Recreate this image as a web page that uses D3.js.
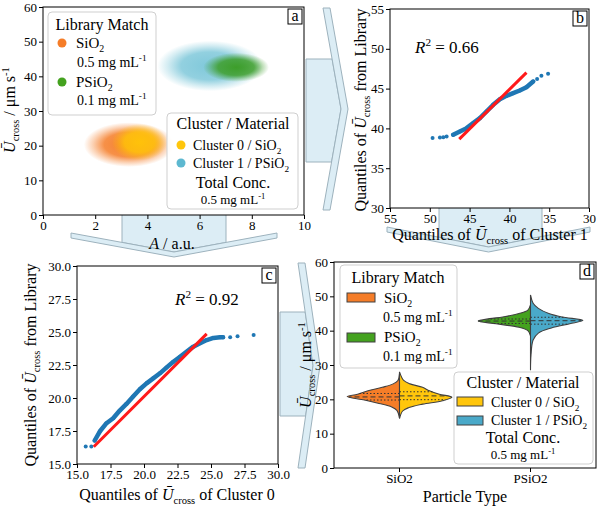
<!DOCTYPE html>
<html lang="en">
<head>
<meta charset="utf-8">
<title>Cluster vs library match</title>
<script src="https://d3js.org/d3.v7.min.js"></script>
<style>
  body { margin: 0; background: #fff; }
</style>
</head>
<body>
<div id="chart"></div>
<script>
// ---- data ----
// (a) scatter clouds: centre and spread of each group
var groupNames = ["SiO2 library", "Cluster 0", "Cluster 1", "PSiO2 library"]
var groupMeanA = [3.3, 3.7, 6.4, 7.4]
var groupMeanU = [20.3, 21.0, 43.0, 42.6]
var groupSdA = [0.62, 0.38, 0.72, 0.45]
var groupSdU = [2.3, 1.9, 2.6, 1.5]

// (b) Q-Q: cluster 1 vs PSiO2 library
var qqB_cluster = [49.65, 48.73, 48.3, 47.89, 47.06, 46.22, 45.38, 44.55, 43.71, 42.88, 42.04, 41.2, 40.37, 39.53, 38.7, 37.86, 37.02, 36.52, 35.98, 35.14]
var qqB_library = [38.78, 38.86, 38.9, 38.99, 39.2, 39.62, 40.03, 40.66, 41.29, 42.12, 42.96, 43.67, 44.09, 44.42, 44.76, 45.18, 45.89, 46.22, 46.6, 46.85]
var fitB_x = [46.3, 37.86]
var fitB_y = [38.65, 47.0]

// (c) Q-Q: cluster 0 vs SiO2 library
var qqC_cluster = [15.65, 16.07, 16.32, 16.7, 17.2, 17.7, 18.19, 18.69, 19.19, 19.69, 20.19, 20.69, 21.19, 21.69, 22.19, 22.69, 23.19, 23.68, 24.18, 24.68, 25.18, 25.68, 25.9, 26.43, 26.98, 28.18]
var qqC_library = [16.33, 16.33, 16.78, 17.46, 18.09, 18.47, 19.05, 19.55, 20.11, 20.66, 21.11, 21.49, 21.87, 22.32, 22.75, 23.13, 23.51, 23.89, 24.14, 24.39, 24.55, 24.6, 24.6, 24.6, 24.67, 24.77]
var fitC_x = [16.25, 24.68]
var fitC_y = [16.31, 24.86]

// (d) split violins: velocity grid + relative width, and quartiles
var particleTypes = ["SiO2", "PSiO2"]
var libSiO2U = [14.5, 16.8, 17.8, 18.8, 19.8, 20.8, 21.5, 22.5, 23.5, 24.5, 25.5, 27.5]
var libSiO2W = [0, 0.05, 0.15, 0.39, 0.67, 1.0, 0.8, 0.6, 0.33, 0.12, 0.03, 0]
var libSiO2Q = [19.8, 20.7, 21.7]
var cl0U = [14.4, 16.6, 17.6, 18.6, 19.6, 20.6, 21.5, 22.5, 23.5, 24.5, 25.5, 28]
var cl0W = [0, 0.06, 0.18, 0.44, 0.82, 1.0, 0.76, 0.57, 0.44, 0.2, 0.08, 0]
var cl0Q = [19.9, 21.0, 22.2]
var libPSiO2U = [38.5, 40, 41, 42, 42.8, 43.5, 44, 45, 46, 47.5]
var libPSiO2W = [0, 0.05, 0.22, 0.66, 1.0, 0.78, 0.53, 0.22, 0.05, 0]
var libPSiO2Q = [42.1, 42.8, 43.4]
var cl1U = [28.5, 33, 37.3, 39.3, 40.8, 42, 43, 44, 45, 46.5, 48, 50.4]
var cl1W = [0, 0.01, 0.05, 0.15, 0.4, 0.75, 1.0, 0.6, 0.35, 0.15, 0.05, 0]
var cl1Q = [41.9, 42.9, 43.9]

var ticksA_x = [0, 2, 4, 6, 8, 10]
var ticksU = [0, 10, 20, 30, 40, 50, 60]
var ticksB = [30, 35, 40, 45, 50, 55]
var ticksC = [15, 17.5, 20, 22.5, 25, 27.5, 30]

// ---- colours ----
var cOrange = "#f57d28", cYellow = "#ffc60c", cCyan = "#5db8d0", cGreen = "#44a21f"
var groupColors = [cOrange, "#ffc20a", "#7fc8da", "#3d9e2a"]
var qqBlue = "#1f77b4"
var FONT = "'Liberation Serif', 'DejaVu Serif', serif"

var width = 600, height = 508
var svg = d3.select("#chart").append("svg")
    .attr("width", width).attr("height", height)
    .style("font-family", FONT)
svg.append("rect").attr("width", width).attr("height", height).attr("fill", "#fff")
var defs = svg.append("defs")

// text with italic / sub / sup pieces
function rich(sel, parts, size) {
    var shift = 0
    parts.forEach(function(p) {
        var target = p.sub ? size * 0.28 : (p.sup ? -size * 0.4 : 0)
        var ts = sel.append("tspan").attr("dy", target - shift).text(p.t)
        shift = target
        if (p.sub || p.sup) ts.attr("font-size", size * 0.66)
        if (p.i) ts.attr("font-style", "italic")
    })
    return sel
}
function label(x, y, parts, size, anchor, rotate) {
    var t = svg.append("text").attr("font-size", size)
        .attr("text-anchor", anchor || "start")
    if (rotate) t.attr("transform", "translate(" + x + "," + y + ") rotate(-90)")
    else t.attr("x", x).attr("y", y)
    return rich(t, parts, size)
}
var Ucross = [{t: "Ū", i: true}, {t: "cross", sub: true}]
var units = [{t: " / μm s"}, {t: "-1", sup: true}]
function conc(v) { return [{t: v + " mg mL"}, {t: "-1", sup: true}] }
function chem(s) { return [{t: s}, {t: "2", sub: true}] }

// ---- background arrows ----
function arrow(orient, p) {
    var mid = (p.c0 + p.c1) / 2, half = (p.c1 - p.c0) / 2
    var inner = function(b) { return p.chev + (p.tip - p.chev) * (1 - Math.abs(b - mid) / half) }
    var body = [[p.body, p.b0], [inner(p.b0), p.b0], [p.tip, mid], [inner(p.b1), p.b1], [p.body, p.b1]]
    var band = [[p.chev, p.c0], [p.chev + p.t, p.c0], [p.tip + p.t, mid], [p.chev + p.t, p.c1], [p.chev, p.c1], [p.tip, mid]]
    var map = orient === "right" ? function(q) { return q } : function(q) { return [q[1], q[0]] }
    ;[body, band].forEach(function(pts) {
        svg.append("polygon")
            .attr("points", pts.map(map).map(function(q) { return q.join(",") }).join(" "))
            .attr("fill", "#dcedf5").attr("stroke", "#9db2bd").attr("stroke-width", 1)
    })
}
arrow("right", {body: 306, b0: 59, b1: 162, chev: 323, c0: 8, c1: 210, tip: 341, t: 7})
arrow("down", {body: 214, b0: 122, b1: 226, chev: 233, c0: 71, c1: 277, tip: 252, t: 5})
arrow("down", {body: 207, b0: 439, b1: 542, chev: 227, c0: 387, c1: 590, tip: 247, t: 5})
arrow("right", {body: 280, b0: 312, b1: 416, chev: 298, c0: 263, c1: 468, tip: 313, t: 7})

// ---- panel helpers ----
function panel(box) {
    var g = svg.append("g")
    g.append("rect").attr("x", box.l).attr("y", box.t)
        .attr("width", box.r - box.l).attr("height", box.b - box.t).attr("fill", "#fff")
    return g
}
function axes(box, xAxis, yAxis) {
    var gx = svg.append("g").attr("transform", "translate(0," + box.b + ")").call(xAxis)
    var gy = svg.append("g").attr("transform", "translate(" + box.l + ",0)").call(yAxis)
    ;[gx, gy].forEach(function(g) {
        g.attr("font-family", FONT).attr("font-size", 13)
        g.select(".domain").remove()
        g.selectAll("line").attr("stroke", "#000")
        g.selectAll("text").attr("fill", "#000").style("font-family", FONT)
    })
    svg.append("rect").attr("x", box.l).attr("y", box.t)
        .attr("width", box.r - box.l).attr("height", box.b - box.t)
        .attr("fill", "none").attr("stroke", "#000").attr("stroke-width", 1)
}
function tag(box, letter) {
    svg.append("rect").attr("x", box.r - 16).attr("y", box.t + 2)
        .attr("width", 14).attr("height", 15)
        .attr("fill", "#fff").attr("stroke", "#000").attr("stroke-width", 1)
    svg.append("text").attr("x", box.r - 9).attr("y", box.t + 14)
        .attr("text-anchor", "middle").attr("font-size", 16).text(letter)
}
function legendBox(x, y, w, h) {
    svg.append("rect").attr("x", x).attr("y", y).attr("width", w).attr("height", h)
        .attr("rx", 4).attr("fill", "#fff").attr("fill-opacity", 0.85)
        .attr("stroke", "#cfcfcf").attr("stroke-width", 1)
}

// ================= (a) =================
var boxA = {l: 43, r: 304, t: 7, b: 215}
var xA = d3.scaleLinear().domain([0, 10]).range([boxA.l, boxA.r])
var yA = d3.scaleLinear().domain([0, 60]).range([boxA.b, boxA.t])
var gA = panel(boxA)
groupNames.forEach(function(name, i) {
    var grad = defs.append("radialGradient").attr("id", "cloud" + i)
    grad.append("stop").attr("offset", "0").attr("stop-color", groupColors[i]).attr("stop-opacity", 1)
    grad.append("stop").attr("offset", "0.55").attr("stop-color", groupColors[i]).attr("stop-opacity", 0.85)
    grad.append("stop").attr("offset", "0.8").attr("stop-color", groupColors[i]).attr("stop-opacity", 0.35)
    grad.append("stop").attr("offset", "1").attr("stop-color", groupColors[i]).attr("stop-opacity", 0)
})
gA.selectAll("ellipse").data(groupNames).enter().append("ellipse")
    .attr("cx", function(d, i) { return xA(groupMeanA[i]) })
    .attr("cy", function(d, i) { return yA(groupMeanU[i]) })
    .attr("rx", function(d, i) { return xA(2.8 * groupSdA[i]) - xA(0) })
    .attr("ry", function(d, i) { return yA(0) - yA(2.8 * groupSdU[i]) })
    .attr("fill", function(d, i) { return "url(#cloud" + i + ")" })
axes(boxA,
    d3.axisBottom(xA).tickValues(ticksA_x).tickSize(4).tickPadding(2),
    d3.axisLeft(yA).tickValues(ticksU).tickSize(4).tickPadding(2))
tag(boxA, "a")
label(15, 110, Ucross.concat(units), 16, "middle", true)
label(172, 249, [{t: "A", i: true}, {t: " / a.u."}], 16, "middle")

// legend: library match
legendBox(48, 12, 108, 103)
label(102, 30, [{t: "Library Match"}], 16, "middle")
svg.append("circle").attr("cx", 62).attr("cy", 43).attr("r", 4.5).attr("fill", cOrange)
label(76, 48, chem("SiO"), 15)
label(77, 67, conc("0.5"), 14)
svg.append("circle").attr("cx", 62).attr("cy", 82).attr("r", 4.5).attr("fill", cGreen)
label(76, 87, chem("PSiO"), 15)
label(77, 105, conc("0.1"), 14)

// legend: cluster / material
legendBox(167, 113, 131, 96)
label(233, 129, [{t: "Cluster / Material"}], 16, "middle")
svg.append("circle").attr("cx", 181).attr("cy", 145).attr("r", 4.5).attr("fill", cYellow)
label(193, 150, [{t: "Cluster 0 / "}].concat(chem("SiO")), 14)
svg.append("circle").attr("cx", 181).attr("cy", 163).attr("r", 4.5).attr("fill", cCyan)
label(193, 168, [{t: "Cluster 1 / "}].concat(chem("PSiO")), 14)
label(233, 188, [{t: "Total Conc."}], 16, "middle")
label(233, 204, conc("0.5"), 13, "middle")

// ================= (b) & (c) Q-Q plots =================
function qqPanel(box, dom, ticks, fmt, xs, ys, dense, fx, fy) {
    var x = d3.scaleLinear().domain(dom.x).range([box.l, box.r])
    var y = d3.scaleLinear().domain(dom.y).range([box.b, box.t])
    var g = panel(box)
    var pts = xs.map(function(v, i) { return [v, ys[i]] })
    g.append("path").datum(pts.slice(dense[0], dense[1] + 1))
        .attr("d", d3.line().x(function(d) { return x(d[0]) }).y(function(d) { return y(d[1]) }))
        .attr("fill", "none").attr("stroke", qqBlue).attr("stroke-width", 4.5)
        .attr("stroke-linecap", "round").attr("stroke-linejoin", "round")
    g.selectAll("circle").data(pts).enter().append("circle")
        .attr("cx", function(d) { return x(d[0]) }).attr("cy", function(d) { return y(d[1]) })
        .attr("r", 2).attr("fill", qqBlue)
    g.append("line").attr("x1", x(fx[0])).attr("y1", y(fy[0])).attr("x2", x(fx[1])).attr("y2", y(fy[1]))
        .attr("stroke", "#ff1a1a").attr("stroke-width", 3)
    axes(box,
        d3.axisBottom(x).tickValues(ticks).tickFormat(fmt).tickSize(4).tickPadding(2),
        d3.axisLeft(y).tickValues(ticks).tickFormat(fmt).tickSize(4).tickPadding(2))
}
var boxB = {l: 390, r: 589, t: 9, b: 208}
qqPanel(boxB, {x: [55, 30], y: [30, 55]}, ticksB, d3.format("d"), qqB_cluster, qqB_library, [4, 16], fitB_x, fitB_y)
tag(boxB, "b")
label(415, 53, [{t: "R", i: true}, {t: "2", sup: true}, {t: " = 0.66"}], 17)
label(366, 110, [{t: "Quantiles of "}].concat(Ucross, [{t: " from Library"}]), 16, "middle", true)
label(490, 240, [{t: "Quantiles of "}].concat(Ucross, [{t: " of Cluster 1"}]), 16, "middle")

var boxC = {l: 77, r: 278, t: 266, b: 464}
qqPanel(boxC, {x: [15, 30], y: [15, 30]}, ticksC, d3.format(".1f"), qqC_cluster, qqC_library, [2, 22], fitC_x, fitC_y)
tag(boxC, "c")
label(175, 305, [{t: "R", i: true}, {t: "2", sup: true}, {t: " = 0.92"}], 17)
label(36, 365, [{t: "Quantiles of "}].concat(Ucross, [{t: " from Library"}]), 16, "middle", true)
label(177, 500, [{t: "Quantiles of "}].concat(Ucross, [{t: " of Cluster 0"}]), 16, "middle")

// ================= (d) split violins =================
var boxD = {l: 334, r: 596, t: 262, b: 468}
var xD = d3.scaleBand().domain(particleTypes).range([boxD.l, boxD.r]).padding(0)
var yD = d3.scaleLinear().domain([0, 60]).range([boxD.b, boxD.t])
var gD = panel(boxD)
var halfW = xD.bandwidth() * 0.4
var halves = [
    {cat: "SiO2", side: -1, u: libSiO2U, w: libSiO2W, q: libSiO2Q, color: cOrange},
    {cat: "SiO2", side: 1, u: cl0U, w: cl0W, q: cl0Q, color: cYellow},
    {cat: "PSiO2", side: -1, u: libPSiO2U, w: libPSiO2W, q: libPSiO2Q, color: cGreen},
    {cat: "PSiO2", side: 1, u: cl1U, w: cl1W, q: cl1Q, color: "#4aa9c9"}
]
halves.forEach(function(h) {
    var cx = xD(h.cat) + xD.bandwidth() / 2
    var pts = h.u.map(function(v, i) { return [v, h.w[i]] })
    var area = d3.area().curve(d3.curveCatmullRom)
        .y(function(d) { return yD(d[0]) })
        .x0(cx)
        .x1(function(d) { return cx + h.side * d[1] * halfW })
    gD.append("path").datum(pts).attr("d", area)
        .attr("fill", h.color).attr("stroke", "#404040").attr("stroke-width", 1.1)
    h.q.forEach(function(q, k) {
        var w = d3.scaleLinear().domain(h.u).range(h.w)(q)
        gD.append("line").attr("x1", cx).attr("x2", cx + h.side * w * halfW)
            .attr("y1", yD(q)).attr("y2", yD(q))
            .attr("stroke", "#333").attr("stroke-width", 1)
            .attr("stroke-dasharray", k === 1 ? "5,3" : "1.5,2")
    })
})
axes(boxD,
    d3.axisBottom(xD).tickSize(4).tickPadding(2),
    d3.axisLeft(yD).tickValues(ticksU).tickSize(4).tickPadding(2))
tag(boxD, "d")
label(311, 365, Ucross.concat(units), 16, "middle", true)
label(465, 502, [{t: "Particle Type"}], 16, "middle")

legendBox(340, 265, 117, 103)
label(398, 283, [{t: "Library Match"}], 16, "middle")
svg.append("rect").attr("x", 347).attr("y", 293).attr("width", 28).attr("height", 9)
    .attr("fill", cOrange).attr("stroke", "#404040")
label(384, 303, chem("SiO"), 15)
label(383, 322, conc("0.5"), 14)
svg.append("rect").attr("x", 347).attr("y", 333).attr("width", 28).attr("height", 9)
    .attr("fill", cGreen).attr("stroke", "#404040")
label(384, 342, chem("PSiO"), 15)
label(383, 361, conc("0.1"), 14)

legendBox(454, 372, 139, 92)
label(523, 388, [{t: "Cluster / Material"}], 16, "middle")
svg.append("rect").attr("x", 457).attr("y", 397).attr("width", 26).attr("height", 9)
    .attr("fill", cYellow).attr("stroke", "#404040")
label(491, 407, [{t: "Cluster 0 / "}].concat(chem("SiO")), 14)
svg.append("rect").attr("x", 457).attr("y", 416).attr("width", 26).attr("height", 9)
    .attr("fill", "#4aa9c9").attr("stroke", "#404040")
label(491, 425, [{t: "Cluster 1 / "}].concat(chem("PSiO")), 14)
label(523, 443, [{t: "Total Conc."}], 16, "middle")
label(523, 459, conc("0.5"), 13, "middle")
</script>
</body>
</html>
